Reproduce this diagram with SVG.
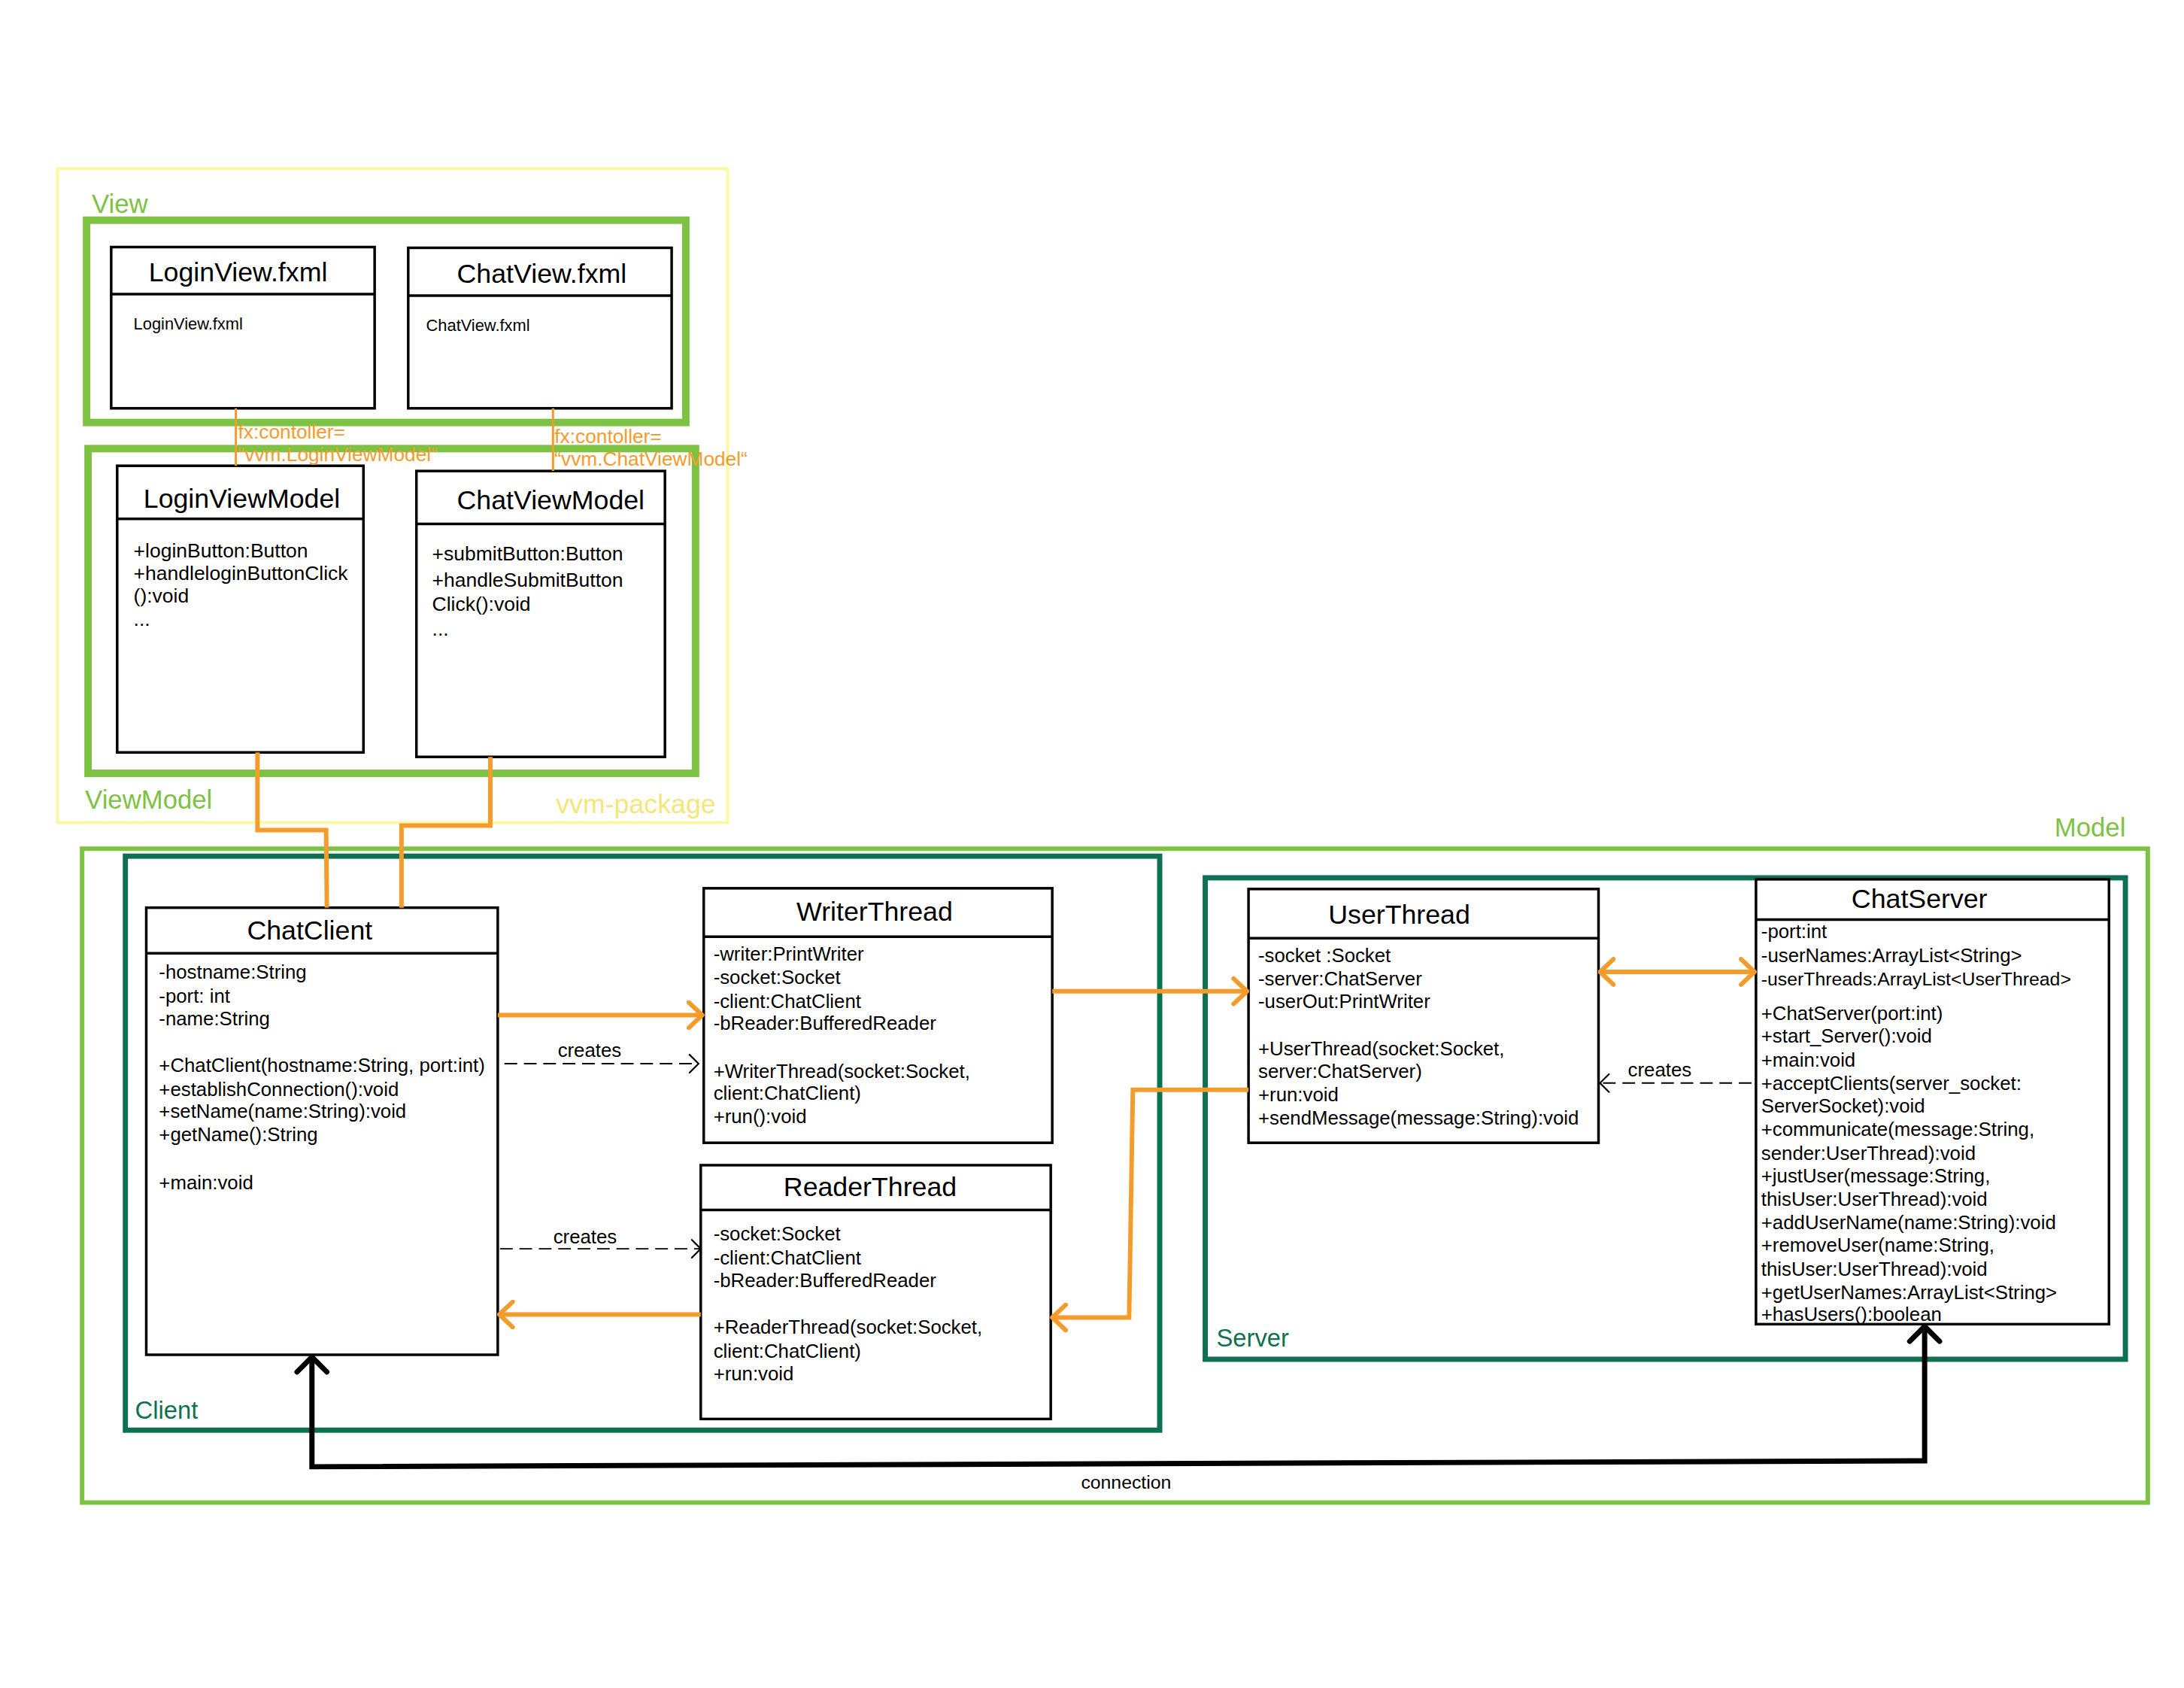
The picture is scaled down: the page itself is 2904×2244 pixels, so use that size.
<svg xmlns="http://www.w3.org/2000/svg" width="2904" height="2244" viewBox="0 0 2904 2244">
<style>
text{font-family:"Liberation Sans",Arial,Helvetica,sans-serif;fill:#000}
.box{fill:#fff;stroke:#000;stroke-width:3.5}
.hdr{stroke:#000;stroke-width:3.5}
.title{font-size:36px;text-anchor:middle}
.body{font-size:26px}
.vm{font-size:26.7px}
.small{font-size:22px}
.lg{fill:none;stroke:#7dc242}
.dg{fill:none;stroke:#0d7151;stroke-width:7}
.lgt{fill:#7dc242;font-size:35px}
.dgt{fill:#0d7151;font-size:33px}
.or{fill:none;stroke:#f39c2b;stroke-width:6}
.ort{fill:#f39c2b;font-size:26.5px}
.dash{fill:none;stroke:#000;stroke-width:2;stroke-dasharray:17 9}
.conn{fill:none;stroke:#000;stroke-width:7}
</style>
<defs>
<marker id="oa" viewBox="0 0 24 40" refX="21" refY="20" markerWidth="24" markerHeight="40" orient="auto-start-reverse" markerUnits="userSpaceOnUse">
<path d="M3,3 L21,20 L3,37" fill="none" stroke="#f39c2b" stroke-width="6" stroke-linecap="round" stroke-linejoin="round"/>
</marker>
<marker id="da" viewBox="0 0 16 28" refX="14" refY="14" markerWidth="16" markerHeight="28" orient="auto" markerUnits="userSpaceOnUse">
<path d="M2,2 L14,14 L2,26" fill="none" stroke="#000" stroke-width="2.2" stroke-linecap="round"/>
</marker>
<marker id="ba" viewBox="0 0 28 48" refX="24" refY="24" markerWidth="28" markerHeight="48" orient="auto-start-reverse" markerUnits="userSpaceOnUse">
<path d="M4,4 L24,24 L4,44" fill="none" stroke="#000" stroke-width="7" stroke-linecap="round" stroke-linejoin="round"/>
</marker>
</defs>
<rect width="2904" height="2244" fill="#fff"/>
<g id="diagram" transform="scale(0.9923)">
<g id="frames">
<rect x="77" y="226" width="898" height="876" fill="none" stroke="#fbf8a3" stroke-width="4"/>
<rect class="lg" x="116" y="295" width="803" height="271" stroke-width="10"/>
<rect class="lg" x="118" y="601" width="814" height="435" stroke-width="10"/>
<rect class="lg" x="110" y="1137" width="2768" height="876" stroke-width="6"/>
<rect class="dg" x="168" y="1147" width="1386" height="769"/>
<rect class="dg" x="1615" y="1176" width="1233" height="645"/>
<text class="lgt" x="123" y="285">View</text>
<text class="lgt" x="114" y="1083">ViewModel</text>
<text x="745" y="1089" style="fill:#f4e57c;font-size:36px">vvm-package</text>
<text class="lgt" x="2753" y="1121">Model</text>
<text class="dgt" x="181" y="1901">Client</text>
<text class="dgt" x="1630" y="1804">Server</text>
</g>

<g id="LoginView">
<rect class="box" x="149" y="331" width="353" height="216"/>
<line class="hdr" x1="149" y1="394" x2="502" y2="394"/>
<text class="title" x="319" y="377">LoginView.fxml</text>
<text class="small" x="179" y="441">LoginView.fxml</text>
</g>

<g id="ChatView">
<rect class="box" x="547" y="332" width="353" height="215"/>
<line class="hdr" x1="547" y1="396" x2="900" y2="396"/>
<text class="title" x="726" y="379">ChatView.fxml</text>
<text class="small" x="571" y="443">ChatView.fxml</text>
</g>

<g id="LoginViewModel">
<rect class="box" x="157" y="624" width="330" height="384"/>
<line class="hdr" x1="157" y1="695" x2="487" y2="695"/>
<text class="title" x="324" y="680">LoginViewModel</text>
<text class="vm" x="179" y="747">+loginButton:Button</text>
<text class="vm" x="179" y="777">+handleloginButtonClick</text>
<text class="vm" x="179" y="807">():void</text>
<text class="vm" x="179" y="838">...</text>
</g>

<g id="ChatViewModel">
<rect class="box" x="558" y="631" width="333" height="383"/>
<line class="hdr" x1="558" y1="702" x2="891" y2="702"/>
<text class="title" x="738" y="682">ChatViewModel</text>
<text class="vm" x="579" y="751">+submitButton:Button</text>
<text class="vm" x="579" y="786">+handleSubmitButton</text>
<text class="vm" x="579" y="818">Click():void</text>
<text class="vm" x="579" y="852">...</text>
</g>

<g id="ChatClient">
<rect class="box" x="196" y="1216" width="471" height="599"/>
<line class="hdr" x1="196" y1="1277" x2="667" y2="1277"/>
<text class="title" x="415" y="1259">ChatClient</text>
<text class="body" x="213" y="1311">-hostname:String</text>
<text class="body" x="213" y="1343">-port: int</text>
<text class="body" x="213" y="1374">-name:String</text>
<text class="body" x="213" y="1436">+ChatClient(hostname:String, port:int)</text>
<text class="body" x="213" y="1468">+establishConnection():void</text>
<text class="body" x="213" y="1498">+setName(name:String):void</text>
<text class="body" x="213" y="1529">+getName():String</text>
<text class="body" x="213" y="1593">+main:void</text>
</g>

<g id="WriterThread">
<rect class="box" x="943" y="1190" width="467" height="341"/>
<line class="hdr" x1="943" y1="1255" x2="1410" y2="1255"/>
<text class="title" x="1172" y="1234">WriterThread</text>
<text class="body" x="956" y="1287">-writer:PrintWriter</text>
<text class="body" x="956" y="1318">-socket:Socket</text>
<text class="body" x="956" y="1350">-client:ChatClient</text>
<text class="body" x="956" y="1380">-bReader:BufferedReader</text>
<text class="body" x="956" y="1444">+WriterThread(socket:Socket,</text>
<text class="body" x="956" y="1473">client:ChatClient)</text>
<text class="body" x="956" y="1505">+run():void</text>
</g>

<g id="ReaderThread">
<rect class="box" x="939" y="1561" width="469" height="340"/>
<line class="hdr" x1="939" y1="1621" x2="1408" y2="1621"/>
<text class="title" x="1166" y="1602">ReaderThread</text>
<text class="body" x="956" y="1662">-socket:Socket</text>
<text class="body" x="956" y="1694">-client:ChatClient</text>
<text class="body" x="956" y="1724">-bReader:BufferedReader</text>
<text class="body" x="956" y="1787">+ReaderThread(socket:Socket,</text>
<text class="body" x="956" y="1819">client:ChatClient)</text>
<text class="body" x="956" y="1849">+run:void</text>
</g>

<g id="UserThread">
<rect class="box" x="1673" y="1191" width="469" height="340"/>
<line class="hdr" x1="1673" y1="1257" x2="2142" y2="1257"/>
<text class="title" x="1875" y="1238">UserThread</text>
<text class="body" x="1686" y="1289">-socket :Socket</text>
<text class="body" x="1686" y="1320">-server:ChatServer</text>
<text class="body" x="1686" y="1350">-userOut:PrintWriter</text>
<text class="body" x="1686" y="1414">+UserThread(socket:Socket,</text>
<text class="body" x="1686" y="1444">server:ChatServer)</text>
<text class="body" x="1686" y="1475">+run:void</text>
<text class="body" x="1686" y="1507">+sendMessage(message:String):void</text>
</g>

<g id="ChatServer">
<rect class="box" x="2353" y="1178" width="473" height="596"/>
<line class="hdr" x1="2353" y1="1232" x2="2826" y2="1232"/>
<text class="title" x="2572" y="1216">ChatServer</text>
<text class="body" x="2360" y="1257">-port:int</text>
<text class="body" x="2360" y="1289">-userNames:ArrayList&lt;String&gt;</text>
<text class="body" x="2360" y="1320" style="font-size:25px">-userThreads:ArrayList&lt;UserThread&gt;</text>
<text class="body" x="2360" y="1367">+ChatServer(port:int)</text>
<text class="body" x="2360" y="1397">+start_Server():void</text>
<text class="body" x="2360" y="1429">+main:void</text>
<text class="body" x="2360" y="1460">+acceptClients(server_socket:</text>
<text class="body" x="2360" y="1490">ServerSocket):void</text>
<text class="body" x="2360" y="1522">+communicate(message:String,</text>
<text class="body" x="2360" y="1554">sender:UserThread):void</text>
<text class="body" x="2360" y="1584">+justUser(message:String,</text>
<text class="body" x="2360" y="1615">thisUser:UserThread):void</text>
<text class="body" x="2360" y="1647">+addUserName(name:String):void</text>
<text class="body" x="2360" y="1677">+removeUser(name:String,</text>
<text class="body" x="2360" y="1709">thisUser:UserThread):void</text>
<text class="body" x="2360" y="1740">+getUserNames:ArrayList&lt;String&gt;</text>
<text class="body" x="2360" y="1770">+hasUsers():boolean</text>
</g>

<g id="connectors">
<line x1="316" y1="547" x2="316" y2="624" stroke="#f39c2b" stroke-width="3"/>
<line x1="741" y1="547" x2="741" y2="631" stroke="#f39c2b" stroke-width="3"/>
<text class="ort" x="319" y="588">fx:contoller=</text>
<text class="ort" x="319" y="618">“vvm.LoginViewModel“</text>
<text class="ort" x="743" y="594">fx:contoller=</text>
<text class="ort" x="743" y="624">“vvm.ChatViewModel“</text>

<polyline class="or" points="345,1008 345,1112 437,1112 438,1216"/>
<polyline class="or" points="657,1014 657,1106 538,1106 538,1216"/>
<line class="or" x1="667" y1="1360" x2="941" y2="1360" marker-end="url(#oa)"/>
<line class="or" x1="939" y1="1761" x2="669" y2="1761" marker-end="url(#oa)"/>
<line class="or" x1="1410" y1="1328" x2="1671" y2="1328" marker-end="url(#oa)"/>
<polyline class="or" points="1673,1460 1518,1460 1513,1765 1410,1765" marker-end="url(#oa)"/>
<line class="or" x1="2144" y1="1302" x2="2351" y2="1302" marker-start="url(#oa)" marker-end="url(#oa)"/>

<line class="dash" x1="676" y1="1425" x2="936" y2="1425" marker-end="url(#da)"/>
<text class="body" x="790" y="1416" text-anchor="middle">creates</text>
<line class="dash" x1="670" y1="1673" x2="939" y2="1673" marker-end="url(#da)"/>
<text class="body" x="784" y="1666" text-anchor="middle">creates</text>
<line class="dash" x1="2347" y1="1451" x2="2144" y2="1451" marker-end="url(#da)"/>
<text class="body" x="2224" y="1442" text-anchor="middle">creates</text>

<polyline class="conn" points="418,1818 418,1965 2579,1957 2579,1777" marker-start="url(#ba)" marker-end="url(#ba)"/>
<text class="body" x="1509" y="1994" text-anchor="middle" style="font-size:25px">connection</text>
</g>
</g>
</svg>
